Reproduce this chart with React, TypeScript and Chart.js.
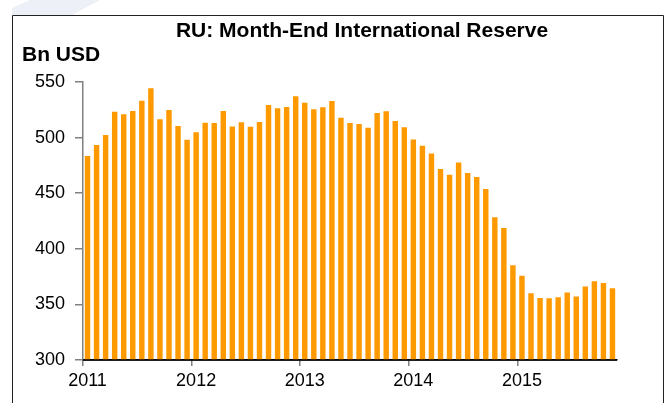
import React, { useEffect, useRef } from 'react';
import { Chart, registerables } from 'chart.js';

Chart.register(...registerables);

const TITLE = 'RU: Month-End International Reserve';
const UNIT = 'Bn USD';
const years = ['2011', '2012', '2013', '2014', '2015'];
const monthNames = ['Jan', 'Feb', 'Mar', 'Apr', 'May', 'Jun', 'Jul', 'Aug', 'Sep', 'Oct', 'Nov', 'Dec'];

const reserves2011 = [483.5, 493.3, 502.3, 523.3, 521.0, 524.0, 533.2, 544.3, 516.4, 524.8, 510.4, 498.1];
const reserves2012 = [504.7, 513.4, 513.1, 524.0, 510.0, 513.7, 509.8, 514.0, 529.3, 526.3, 527.5, 537.1];
const reserves2013 = [531.4, 525.4, 527.2, 532.9, 517.9, 513.1, 512.2, 508.9, 522.1, 523.6, 514.9, 509.2];
const reserves2014 = [498.4, 492.7, 485.8, 471.8, 466.7, 477.7, 468.2, 464.6, 453.8, 428.3, 418.7, 385.3];
const reserves2015 = [375.8, 360.0, 355.8, 355.5, 356.4, 360.8, 357.0, 366.0, 370.8, 369.3, 364.5];

const yTicks = [300, 350, 400, 450, 500, 550];

const values = [...reserves2011, ...reserves2012, ...reserves2013, ...reserves2014, ...reserves2015];
const labels = values.map((_, i) => `${monthNames[i % 12]} ${years[Math.floor(i / 12)]}`);

const FONT = '"Liberation Sans", Arial, sans-serif';

const framePlugin = {
  id: 'frameAndTitle',
  beforeDraw(chart: any) {
    const ctx = chart.ctx;
    ctx.save();
    ctx.fillStyle = '#ffffff';
    ctx.fillRect(0, 0, chart.width, chart.height);
    // faint decoration top-left
    ctx.fillStyle = '#eef0f8';
    ctx.beginPath();
    ctx.moveTo(30, 0);
    ctx.lineTo(100, 0);
    ctx.lineTo(72, 15);
    ctx.lineTo(12, 15);
    ctx.lineTo(12, 8);
    ctx.closePath();
    ctx.fill();
    // frame
    ctx.strokeStyle = '#222222';
    ctx.lineWidth = 1;
    ctx.beginPath();
    ctx.moveTo(12.5, 403);
    ctx.lineTo(12.5, 15.5);
    ctx.lineTo(663.5, 15.5);
    ctx.lineTo(663.5, 403);
    ctx.stroke();
    // title
    ctx.fillStyle = '#000000';
    ctx.textBaseline = 'middle';
    ctx.textAlign = 'center';
    ctx.font = `bold 21px ${FONT}`;
    ctx.fillText(TITLE, 362, 31);
    ctx.textAlign = 'left';
    ctx.font = `bold 21px ${FONT}`;
    ctx.fillText(UNIT, 22, 55);
    ctx.restore();
  },
  afterDatasetsDraw(chart: any) {
    const { ctx, chartArea } = chart;
    ctx.save();
    ctx.strokeStyle = '#000000';
    ctx.lineWidth = 1.5;
    ctx.beginPath();
    ctx.moveTo(chartArea.left, chartArea.bottom);
    ctx.lineTo(chartArea.right, chartArea.bottom);
    ctx.stroke();
    ctx.restore();
  },
};

export default function App() {
  const canvasRef = useRef<HTMLCanvasElement | null>(null);

  useEffect(() => {
    document.body.style.margin = '0';
    const canvas = canvasRef.current;
    if (!canvas) return;
    const chart = new Chart(canvas, {
      type: 'bar',
      data: {
        labels,
        datasets: [
          {
            data: values,
            backgroundColor: '#FF9900',
            borderWidth: 0,
            barPercentage: 0.6,
            categoryPercentage: 1,
          },
        ],
      },
      options: {
        responsive: false,
        animation: false,
        devicePixelRatio: 1,
        layout: { padding: { top: 82, right: 52, left: 0, bottom: 0 } },
        plugins: {
          legend: { display: false },
          tooltip: { enabled: false },
          title: { display: false },
        },
        scales: {
          x: {
            type: 'category',
            offset: true,
            grid: {
              offset: true,
              drawOnChartArea: false,
              drawTicks: true,
              tickLength: 6,
              color: (c: any) => (c.index % 12 === 0 ? '#808080' : 'rgba(0,0,0,0)'),
              lineWidth: 1.5,
            },
            border: { color: '#000000', width: 1.5 },
            ticks: {
              autoSkip: false,
              maxRotation: 0,
              minRotation: 0,
              color: '#000000',
              padding: 4,
              font: { size: 18, family: FONT },
              callback: (_v: any, i: number) => (i % 12 === 0 ? years[i / 12] : ''),
            },
            afterFit: (s: any) => {
              s.height = 43;
            },
          },
          y: {
            min: yTicks[0],
            max: yTicks[yTicks.length - 1],
            afterBuildTicks: (s: any) => {
              s.ticks = yTicks.map((v) => ({ value: v }));
            },
            grid: {
              drawOnChartArea: false,
              drawTicks: true,
              tickLength: 8,
              color: '#808080',
              lineWidth: 1.5,
            },
            border: { color: '#808080', width: 1.5 },
            ticks: {
              color: '#000000',
              padding: 10,
              font: { size: 18, family: FONT },
            },
            afterFit: (s: any) => {
              s.width = 83;
            },
          },
        },
      },
      plugins: [framePlugin],
    });
    return () => chart.destroy();
  }, []);

  return (
    <div style={{ width: 669, height: 403 }}>
      <canvas ref={canvasRef} width={669} height={403} />
    </div>
  );
}
